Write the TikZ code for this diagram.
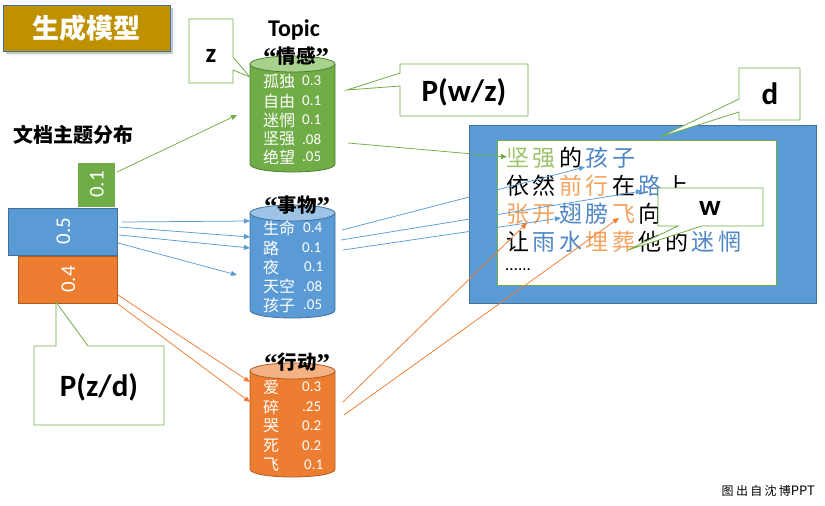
\documentclass[tikz,border=0pt]{standalone}
\usepackage{fontspec}
\setmainfont{Carlito}
\newfontfamily\cjk{Noto Sans CJK SC}
\newfontfamily\qserif{Liberation Serif}
\usetikzlibrary{arrows.meta,shadows}
\definecolor{cgreen}{HTML}{70AD47}
\definecolor{cgreenL}{HTML}{A9D18E}
\definecolor{cgreenD}{HTML}{507E32}
\definecolor{cblue}{HTML}{5B9BD5}
\definecolor{cblueL}{HTML}{9DC3E6}
\definecolor{cblueD}{HTML}{41719C}
\definecolor{corange}{HTML}{ED7D31}
\definecolor{corangeL}{HTML}{F4B183}
\definecolor{corangeD}{HTML}{AE5A21}
\definecolor{cgold}{HTML}{BF9000}
\definecolor{tgreen}{HTML}{9BC46A}
\definecolor{tblue}{HTML}{4F86C6}
\definecolor{torange}{HTML}{F4A460}
\newcommand\fs[1]{\fontsize{#1}{#1}\selectfont}
\newcommand\ks{\kern3.5pt}
\newcommand\fk{\kern2.3pt}
\newcommand\qo{{\qserif\bfseries\fs{27}\raisebox{-3pt}{“}}}
\newcommand\qc{{\qserif\bfseries\fs{27}\raisebox{-3pt}{”}}}
\newcommand\mycyl[5]{%
  \fill[#3] (250,#1) -- (250,#2) .. controls (250,{#2+10.67}) and (335,{#2+10.67}) .. (335,#2) -- (335,#1) -- cycle;
  \draw[#5,line width=0.8pt] (250,#1) -- (250,#2) .. controls (250,{#2+10.67}) and (335,{#2+10.67}) .. (335,#2) -- (335,#1);
  \draw[#5,line width=0.8pt,fill=#4] (292.5,#1) ellipse [x radius=42.5,y radius=8];}
\tikzset{
  cw/.style={anchor=west,inner sep=0,text=white,font=\cjk\fs{16}},
  cn/.style={anchor=west,inner sep=0,text=white,font=\fs{15}},
  clabel/.style={inner sep=0,font=\cjk\bfseries\fs{19.5}},
  callout/.style={draw=cgreen,line width=0.8pt,fill=white,line join=miter},
  ctext/.style={inner sep=0,font=\bfseries\fs{31}},
  docline/.style={anchor=west,inner sep=0,font=\cjk\fs{23}},
  probbox/.style={inner sep=0,text=white,font=\fs{21},line width=0.8pt},
  arr/.style={line width=0.75pt,-{Triangle[length=6pt,width=5pt]}}
}
\begin{document}
\begin{tikzpicture}[x=1pt,y=-1pt]
\useasboundingbox (0,0) rectangle (825,506);
% title
\node[draw=cblueD,line width=1pt,fill=cgold,minimum width=167pt,minimum height=46pt,inner sep=0,
  text=white,font=\cjk\bfseries\fs{27},drop shadow={shadow xshift=2.5pt,shadow yshift=-2.5pt,opacity=0.45}] (title) at (86.5,28) {生成模型};
\node[inner sep=0,font=\cjk\bfseries\fs{20}] (dist) at (73,135) {文档主题分布};
% probability boxes
\node[probbox,fill=cgreen,minimum width=37pt,minimum height=44pt] (p1) at (96.5,185) {};
\node[probbox,rotate=90] (p1t) at (97,184.5) {0.1};
\node[probbox,fill=cblue,draw=cblueD,minimum width=109pt,minimum height=47pt] (p5) at (62.5,231.5) {};
\node[probbox,rotate=90] (p5t) at (63.5,231) {0.5};
\node[probbox,fill=corange,draw=corangeD,minimum width=99pt,minimum height=47pt] (p4) at (67.5,279.5) {};
\node[probbox,rotate=90] (p4t) at (68.5,279.5) {0.4};
% cylinders
\mycyl{64}{164}{cgreen}{cgreenL}{cgreenD}
\mycyl{213}{310}{cblue}{cblueL}{cblueD}
\mycyl{371}{469}{corange}{corangeL}{corangeD}
\node[inner sep=0,font=\bfseries\fs{24}] (topic) at (294,30) {Topic};
\node[clabel] (lab1) at (296,57) {\qo 情感\qc};
\node[clabel] (lab2) at (297,206) {\qo 事物\qc};
\node[clabel] (lab3) at (297,363) {\qo 行动\qc};
% green rows
\node[cw] (g1w) at (263,81) {孤独};  \node[cn] (g1n) at (302,81) {0.3};
\node[cw] (g2w) at (263,101) {自由}; \node[cn] (g2n) at (302,101) {0.1};
\node[cw] (g3w) at (263,120) {迷惘}; \node[cn] (g3n) at (302,120) {0.1};
\node[cw] (g4w) at (263,139) {坚强}; \node[cn] (g4n) at (302,139) {.08};
\node[cw] (g5w) at (263,157) {绝望}; \node[cn] (g5n) at (302,157) {.05};
% blue rows
\node[cw] (b1w) at (263,228) {生命}; \node[cn] (b1n) at (303,228) {0.4};
\node[cw] (b2w) at (263,248) {路};   \node[cn] (b2n) at (302,248) {0.1};
\node[cw] (b3w) at (263,267) {夜};   \node[cn] (b3n) at (304,267) {0.1};
\node[cw] (b4w) at (263,286) {天空}; \node[cn] (b4n) at (303,286) {.08};
\node[cw] (b5w) at (263,305) {孩子}; \node[cn] (b5n) at (303,305) {.05};
% orange rows
\node[cw] (o1w) at (263,387) {爱}; \node[cn] (o1n) at (302,387) {0.3};
\node[cw] (o2w) at (263,407) {碎}; \node[cn] (o2n) at (302,407) {.25};
\node[cw] (o3w) at (263,426) {哭}; \node[cn] (o3n) at (302,426) {0.2};
\node[cw] (o4w) at (263,446) {死}; \node[cn] (o4n) at (302,446) {0.2};
\node[cw] (o5w) at (263,465) {飞}; \node[cn] (o5n) at (304,465) {0.1};
% document
\node[fill=cblue,draw=cblueD,line width=0.8pt,minimum width=347pt,minimum height=178pt,inner sep=0] (doc) at (642.5,214) {};
\node[fill=white,draw=cgreen,line width=0.8pt,minimum width=279pt,minimum height=145pt,inner sep=0] (page) at (636.5,212.5) {};
\node[docline] (l1) at (506,158) {\textcolor{tgreen}{坚\ks 强}\ks 的\ks\textcolor{tblue}{孩\ks 子}};
\node[docline] (l2) at (506,186) {依\ks 然\ks\textcolor{torange}{前\ks 行}\ks 在\ks\textcolor{tblue}{路}\ks 上};
\node[docline] (l3) at (506,214) {\textcolor{torange}{张\ks 开}\ks\textcolor{tblue}{翅\ks 膀}\ks\textcolor{torange}{飞}\ks 向};
\node[docline] (l4) at (506,242) {让\ks\textcolor{tblue}{雨\ks 水}\ks\textcolor{torange}{埋\ks 葬}\ks 他\ks 的\ks\textcolor{tblue}{迷\ks 惘}};
\node[anchor=west,inner sep=0,font=\fs{17}] (l5) at (505,270) {......};
% connector coordinates
\coordinate (sg1) at (117,172); \coordinate (eg1) at (237,115);
\coordinate (sg2) at (348,143); \coordinate (eg2) at (507,157);
\coordinate (sb1) at (122,222); \coordinate (eb1) at (250,221);
\coordinate (sb2) at (119,227); \coordinate (eb2) at (250,237);
\coordinate (sb3) at (119,235); \coordinate (eb3) at (250,248);
\coordinate (sb4) at (118,243); \coordinate (eb4) at (237,275);
\coordinate (sb5) at (342,230); \coordinate (eb5) at (585,167);
\coordinate (sb6) at (341,240); \coordinate (eb6) at (642,191);
\coordinate (sb7) at (343,250); \coordinate (eb7) at (561,218);
\coordinate (so1) at (118,295); \coordinate (eo1) at (250,382);
\coordinate (so2) at (118,304); \coordinate (eo2) at (250,402);
\coordinate (so3) at (343,402); \coordinate (eo3) at (527,223);
\coordinate (so4) at (344,415); \coordinate (eo4) at (619,218);
\draw[arr,cgreen] (sg1) -- (eg1);
\draw[arr,cgreen] (sg2) -- (eg2);
\foreach \i in {1,...,7} {\draw[arr,cblue] (sb\i) -- (eb\i);}
\foreach \i in {1,...,4} {\draw[arr,corange] (so\i) -- (eo\i);}
% callouts
\draw[callout] (189,19) -- (233,19) -- (233,57) -- (250,77) -- (233,70) -- (233,83) -- (189,83) -- cycle;
\node[ctext,font=\bfseries\fs{27}] (zt) at (211,56) {z};
\draw[callout] (400,64) -- (528,64) -- (528,116) -- (400,116) -- (400,86) -- (347,90) -- (400,73) -- cycle;
\node[ctext] (pwz) at (464,92) {P(w/z)};
\draw[callout] (739,68) -- (800,68) -- (800,120) -- (739,120) -- (739,112) -- (660,137) -- (739,99) -- cycle;
\node[ctext] (dt) at (770,94) {d};
\draw[callout] (658,188) -- (763,188) -- (763,226) -- (702,226) -- (628,250) -- (678,226) -- (658,226) -- cycle;
\node[ctext,font=\bfseries\fs{29}] (wt) at (710,208) {w};
\draw[callout] (34,346) -- (56,346) -- (56,302) -- (88,346) -- (164,346) -- (164,425) -- (34,425) -- cycle;
\node[ctext] (pzd) at (99,387) {P(z/d)};
% footer
\node[anchor=east,inner sep=0,font=\cjk\fs{12}] (foot) at (815,491) {图\fk 出\fk 自\fk 沈\fk 博{\fs{13}PPT}};
\end{tikzpicture}
\end{document}
